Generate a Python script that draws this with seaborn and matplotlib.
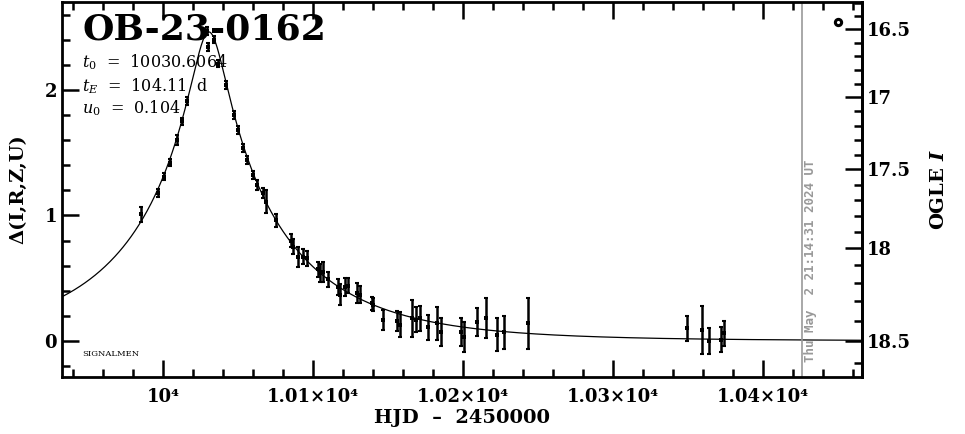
import numpy as np
import pandas as pd
import matplotlib
matplotlib.use("Agg")
import matplotlib.pyplot as plt
import seaborn as sns
from matplotlib.ticker import MultipleLocator

# ---- data ----
hjd = [9985.3, 9996.9, 10000.9, 10004.7, 10009.1, 10012.9, 10015.8,
       10029.5, 10030.0, 10034.2, 10037.0, 10041.8, 10047.1, 10050.2,
       10053.1, 10055.8, 10059.8, 10062.9, 10066.4, 10068.7, 10075.3,
       10085.3, 10086.4, 10090.2, 10093.6, 10095.8, 10103.6, 10104.7,
       10106.9, 10110.2, 10116.9, 10118.0, 10121.3, 10123.5, 10129.1,
       10131.3, 10139.1, 10140.2, 10146.9, 10155.8, 10158.0, 10165.8,
       10168.7, 10171.3, 10176.9, 10182.4, 10185.1, 10198.4, 10200.9,
       10209.1, 10215.1, 10222.4, 10227.6, 10243.1,
       10349.6, 10359.6, 10364.2, 10371.8, 10374.0]
delta = [1.01, 1.18, 1.31, 1.42, 1.60, 1.75, 1.91,
         2.47, 2.34, 2.40, 2.21, 2.04, 1.80, 1.68,
         1.535, 1.44, 1.32, 1.24, 1.18, 1.11, 0.96,
         0.80, 0.75, 0.67, 0.67, 0.66, 0.57, 0.54,
         0.55, 0.49, 0.43, 0.37, 0.43, 0.44, 0.38,
         0.37, 0.30, 0.29, 0.17, 0.16, 0.13, 0.18,
         0.17, 0.18, 0.11, 0.14, 0.07, 0.07, 0.03,
         0.15, 0.18, 0.05, 0.07, 0.14,
         0.10, 0.09, 0.00, 0.01, 0.06]
err = [0.06, 0.03, 0.03, 0.03, 0.04, 0.03, 0.03,
       0.03, 0.03, 0.03, 0.03, 0.03, 0.03, 0.03,
       0.03, 0.03, 0.03, 0.04, 0.04, 0.09, 0.05,
       0.05, 0.06, 0.08, 0.06, 0.06, 0.06, 0.07,
       0.08, 0.06, 0.06, 0.08, 0.07, 0.06, 0.08,
       0.07, 0.05, 0.05, 0.08, 0.08, 0.10, 0.15,
       0.10, 0.10, 0.10, 0.13, 0.11, 0.11, 0.12,
       0.11, 0.16, 0.13, 0.13, 0.20,
       0.10, 0.19, 0.10, 0.10, 0.10]

# model parameters shown on the chart
t0 = 10030.6064
tE = 104.11
u0 = 0.104
base_mag = 18.5
blend_fs = 0.60

x_ticks = [10000, 10100, 10200, 10300, 10400]
x_tick_labels = ["10⁴", "1.01×10⁴", "1.02×10⁴", "1.03×10⁴", "1.04×10⁴"]
y_ticks = [0, 1, 2]
mag_ticks = [16.5, 17.0, 17.5, 18.0, 18.5]
mag_tick_labels = ["16.5", "17", "17.5", "18", "18.5"]

flag_x = [10450.0]
flag_y = [2.54]
now_line_x = 10426.0
stamp = "Thu May  2 21:14:31 2024 UT"

# ---- model curve from the displayed parameters ----
tgrid = np.linspace(9932.7, 10466.0, 800)
u = np.sqrt(u0**2 + ((tgrid - t0) / tE) ** 2)
A = (u**2 + 2) / (u * np.sqrt(u**2 + 4))
model = pd.DataFrame({"t": tgrid, "d": 2.5 * np.log10(A)})
obs = pd.DataFrame({"t": hjd, "d": delta, "e": err})

sns.set_style("ticks")
plt.rcParams["font.family"] = ["DejaVu Serif"]
for k in ["text.color", "axes.labelcolor", "xtick.color", "ytick.color",
          "axes.edgecolor"]:
    plt.rcParams[k] = "black"
plt.rcParams["mathtext.fontset"] = "custom"
plt.rcParams["mathtext.rm"] = "DejaVu Serif"
plt.rcParams["mathtext.it"] = "DejaVu Serif:italic"
plt.rcParams["mathtext.bf"] = "DejaVu Serif:italic:bold"

fig = plt.figure(figsize=(9.65, 4.34), dpi=100)
ax = fig.add_axes([62/965, 57/434, 800/965, 375/434])

sns.lineplot(data=model, x="t", y="d", ax=ax, color="black", lw=0.9)
ax.errorbar(obs["t"], obs["d"], yerr=obs["e"], fmt="none", ecolor="black",
            elinewidth=1.8, capsize=1.5, capthick=1.5)
sns.scatterplot(data=obs, x="t", y="d", ax=ax, color="black", marker="s",
                s=6, linewidth=0)
ax.plot(flag_x, flag_y, "o", mfc="white", mec="black", mew=2.2, ms=4.5)
ax.axvline(now_line_x, color="#999999", lw=1.2)

ax.set_xlim(9932.7, 10466.0)
ax.set_ylim(-0.287, 2.70)

ax.set_xticks(x_ticks)
ax.set_xticklabels(x_tick_labels)
ax.xaxis.set_minor_locator(MultipleLocator(20))
ax.set_yticks(y_ticks)
ax.set_yticklabels([str(v) for v in y_ticks])
ax.yaxis.set_minor_locator(MultipleLocator(0.2))

for s in ax.spines.values():
    s.set_linewidth(2.0)
    s.set_color("black")

ax.tick_params(which="both", direction="in", top=True, right=False,
               width=1.8, colors="black", labelsize=13)
ax.tick_params(which="major", length=12)
ax.tick_params(which="minor", length=6)
for lab in ax.get_xticklabels() + ax.get_yticklabels():
    lab.set_fontweight("bold")
ax.tick_params(axis="x", pad=8)

ax.set_xlabel("HJD  –  2450000", fontsize=14, fontweight="bold", labelpad=2)
ax.set_ylabel("Δ(I,R,Z,U)", fontsize=14, fontweight="bold", labelpad=12)


def d2m(d):
    d = np.asarray(d, dtype=float)
    f = 1 + blend_fs * (10 ** (0.4 * d) - 1)
    f = np.clip(f, 1e-6, None)
    return base_mag - 2.5 * np.log10(f)


def m2d(m):
    m = np.asarray(m, dtype=float)
    a = 1 + (10 ** (-0.4 * (m - base_mag)) - 1) / blend_fs
    a = np.clip(a, 1e-6, None)
    return 2.5 * np.log10(a)


sec = ax.secondary_yaxis("right", functions=(d2m, m2d))
sec.set_yticks(mag_ticks)
sec.set_yticklabels(mag_tick_labels)
sec.yaxis.set_minor_locator(MultipleLocator(0.1))
sec.tick_params(which="both", direction="in", width=1.8, labelsize=13,
                colors="black")
sec.tick_params(which="major", length=12)
sec.tick_params(which="minor", length=6)
for lab in sec.get_yticklabels():
    lab.set_fontweight("bold")
sec.spines["right"].set_linewidth(2.0)
sec.set_ylabel("OGLE $\\mathbf{I}$", fontsize=14, fontweight="bold",
               labelpad=14)

ax.text(0.025, 0.928, "OB-23-0162", transform=ax.transAxes, fontsize=26,
        fontweight="bold", va="center", ha="left")
ax.text(0.025, 0.84, "$t_0$  =  10030.6064", transform=ax.transAxes,
        fontsize=11.5, va="center", ha="left")
ax.text(0.025, 0.776, "$t_E$  =  104.11  d", transform=ax.transAxes,
        fontsize=11.5, va="center", ha="left")
ax.text(0.025, 0.718, "$u_0$  =  0.104", transform=ax.transAxes,
        fontsize=11.5, va="center", ha="left")
ax.text(0.025, 0.061, "SIGNALMEN", transform=ax.transAxes, fontsize=6,
        va="center", ha="left")
ax.text(now_line_x + 5.5, -0.17, stamp, rotation=90, color="#999999",
        fontsize=9, fontweight="bold", family="DejaVu Sans Mono",
        va="bottom", ha="center")

fig.savefig("out.png", dpi=100)
